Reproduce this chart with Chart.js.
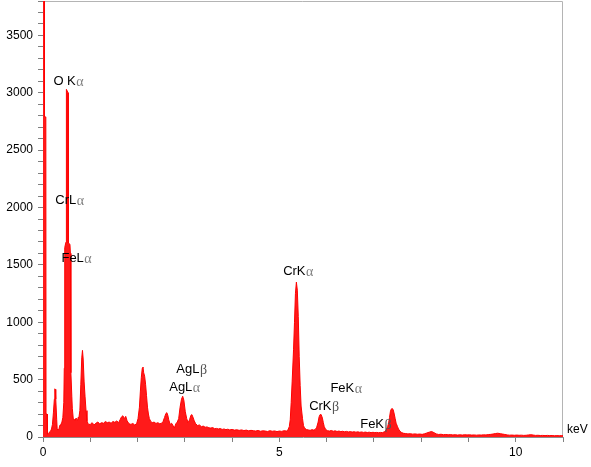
<!DOCTYPE html>
<html>
<head>
<meta charset="utf-8">
<script src="https://cdn.jsdelivr.net/npm/chart.js@4"></script>
<style>
  html, body { margin: 0; padding: 0; background: #fff; }
  canvas { display: block; }
</style>
</head>
<body>
<canvas id="edsChart" width="591" height="467"></canvas>
<script>
// energy axis (keV) and counts
var energyKeV = [
  0.000, 0.028, 0.032, 0.060, 0.064, 0.085, 0.090, 0.10, 0.12, 0.14,
  0.16, 0.18, 0.20, 0.22, 0.24, 0.25, 0.26, 0.27, 0.29, 0.30,
  0.32, 0.34, 0.36, 0.38, 0.40, 0.42, 0.44, 0.45, 0.46, 0.48,
  0.49, 0.495, 0.53, 0.535, 0.57, 0.58, 0.59, 0.61, 0.62, 0.64,
  0.66, 0.68, 0.70, 0.72, 0.74, 0.76, 0.78, 0.80, 0.82, 0.835,
  0.85, 0.87, 0.89, 0.91, 0.93, 0.96, 1.00, 1.04, 1.08, 1.12,
  1.16, 1.20, 1.24, 1.28, 1.32, 1.36, 1.40, 1.44, 1.48, 1.52,
  1.56, 1.60, 1.63, 1.66, 1.69, 1.72, 1.75, 1.78, 1.82, 1.86,
  1.90, 1.94, 1.98, 2.01, 2.04, 2.06, 2.08, 2.10, 2.115, 2.13,
  2.15, 2.17, 2.19, 2.21, 2.23, 2.25, 2.28, 2.31, 2.35, 2.39,
  2.43, 2.47, 2.51, 2.54, 2.57, 2.60, 2.62, 2.64, 2.66, 2.69,
  2.72, 2.75, 2.78, 2.81, 2.84, 2.87, 2.90, 2.93, 2.955, 2.98,
  3.01, 3.04, 3.07, 3.10, 3.13, 3.15, 3.17, 3.20, 3.23, 3.27,
  3.31, 3.35, 3.39, 3.43, 3.47, 3.51, 3.55, 3.59, 3.63, 3.67,
  3.71, 3.75, 3.79, 3.83, 3.87, 3.91, 3.95, 4.00, 4.05, 4.10,
  4.15, 4.20, 4.25, 4.30, 4.35, 4.40, 4.45, 4.50, 4.55, 4.60,
  4.65, 4.70, 4.75, 4.80, 4.85, 4.90, 4.95, 5.00, 5.05, 5.10,
  5.15, 5.18, 5.21, 5.23, 5.25, 5.27, 5.30, 5.32, 5.34, 5.36,
  5.38, 5.40, 5.42, 5.44, 5.46, 5.49, 5.51, 5.53, 5.57, 5.61,
  5.65, 5.69, 5.73, 5.76, 5.79, 5.82, 5.84, 5.86, 5.885, 5.91,
  5.93, 5.95, 5.98, 6.02, 6.06, 6.10, 6.14, 6.18, 6.22, 6.26,
  6.30, 6.34, 6.38, 6.42, 6.46, 6.50, 6.54, 6.58, 6.62, 6.66,
  6.70, 6.74, 6.78, 6.82, 6.86, 6.90, 6.94, 6.98, 7.02, 7.06,
  7.10, 7.14, 7.18, 7.22, 7.26, 7.29, 7.31, 7.33, 7.35, 7.37,
  7.39, 7.41, 7.43, 7.45, 7.47, 7.50, 7.52, 7.55, 7.59, 7.63,
  7.67, 7.72, 7.77, 7.82, 7.87, 7.92, 7.97, 8.02, 8.07, 8.12,
  8.17, 8.22, 8.27, 8.32, 8.37, 8.42, 8.47, 8.52, 8.57, 8.62,
  8.67, 8.72, 8.77, 8.82, 8.87, 8.92, 8.97, 9.02, 9.07, 9.12,
  9.17, 9.22, 9.27, 9.32, 9.37, 9.42, 9.47, 9.52, 9.57, 9.62,
  9.67, 9.72, 9.77, 9.82, 9.87, 9.92, 9.97, 10.02, 10.07, 10.12,
  10.17, 10.22, 10.27, 10.32, 10.37, 10.42, 10.47, 10.52, 10.57, 10.62,
  10.67, 10.72, 10.77, 10.82, 10.87, 10.92, 10.97, 11.00
];
var counts = [
  4200, 4200, 2790, 2790, 200, 200, 40, 25, 30, 45,
  50, 70, 110, 210, 330, 420, 415, 330, 150, 70,
  55, 75, 105, 110, 130, 170, 300, 600, 1650, 1690,
  1700, 3030, 3000, 1690, 1680, 1600, 560, 350, 250, 160,
  155, 145, 165, 150, 170, 170, 230, 460, 690, 755,
  680, 480, 350, 230, 140, 110, 110, 125, 105, 120,
  130, 115, 125, 120, 135, 125, 130, 120, 135, 128,
  140, 125, 150, 175, 185, 160, 180, 140, 115, 110,
  118, 105, 115, 160, 260, 400, 520, 600, 610, 560,
  530, 460, 360, 260, 200, 160, 135, 125, 130, 118,
  125, 115, 120, 135, 170, 205, 212, 190, 150, 110,
  120, 100, 80, 115, 130, 160, 260, 330, 355, 320,
  220, 160, 125, 150, 190, 195, 175, 140, 115, 100,
  105, 90, 95, 85, 88, 80, 78, 82, 72, 75,
  70, 74, 66, 70, 64, 68, 62, 66, 60, 63,
  58, 62, 56, 60, 54, 58, 55, 52, 57, 50,
  54, 52, 48, 55, 50, 53, 47, 52, 49, 55,
  52, 60, 90, 150, 300, 480, 760, 1000, 1250, 1350,
  1280, 1050, 700, 450, 270, 160, 100, 80, 65, 62,
  58, 64, 60, 66, 85, 130, 175, 195, 195, 165,
  125, 90, 65, 55, 52, 57, 50, 54, 48, 52,
  47, 50, 45, 49, 44, 47, 43, 46, 42, 45,
  41, 44, 40, 43, 39, 42, 38, 41, 38, 40,
  37, 40, 38, 45, 60, 90, 120, 170, 225, 245,
  248, 235, 200, 160, 120, 90, 70, 50, 38, 32,
  30, 27, 29, 25, 27, 24, 26, 23, 28, 35,
  42, 48, 38, 27, 22, 24, 20, 22, 19, 21,
  18, 20, 17, 19, 17, 20, 18, 19, 17, 18,
  16, 18, 17, 19, 18, 21, 23, 26, 30, 33,
  29, 26, 22, 18, 16, 17, 15, 17, 15, 16,
  14, 15, 18, 20, 17, 14, 15, 13, 14, 12,
  14, 12, 13, 11, 12, 11, 12, 11
];

// peak labels: name, greek suffix, anchor (left edge keV, centre counts)
var peakNames  = ['O K', 'CrL', 'FeL', 'CrK', 'AgL', 'AgL', 'FeK', 'CrK', 'FeK'];
var peakGreek  = ['\u03b1', '\u03b1', '\u03b1', '\u03b1', '\u03b2', '\u03b1', '\u03b1', '\u03b2', '\u03b2'];
var peakKeV    = [0.22, 0.26, 0.39, 5.08, 2.82, 2.67, 6.08, 5.63, 6.71];
var peakCounts = [3100, 2060, 1555, 1440, 590, 430, 425, 265, 108];

var xTickStep = 1, xLabelEvery = 5;
var yTickStep = 100, yLabelEvery = 500;

var points = energyKeV.map(function(e, i) { return { x: e, y: counts[i] }; });

var framePlugin = {
  id: 'frame',
  beforeDatasetsDraw: function(chart) {
    var a = chart.chartArea, c = chart.ctx;
    c.save();
    c.strokeStyle = '#b4b4b4';
    c.lineWidth = 1;
    c.beginPath();
    c.moveTo(a.left, a.top + 0.5);
    c.lineTo(a.right - 0.5, a.top + 0.5);
    c.lineTo(a.right - 0.5, a.bottom);
    c.stroke();
    c.restore();
  }
};

var labelPlugin = {
  id: 'peakLabels',
  afterDatasetsDraw: function(chart) {
    var c = chart.ctx, xs = chart.scales.x, ys = chart.scales.y;
    c.save();
    c.textBaseline = 'middle';
    c.textAlign = 'left';
    peakNames.forEach(function(name, i) {
      var px = xs.getPixelForValue(peakKeV[i]);
      var py = ys.getPixelForValue(peakCounts[i]);
      c.font = '13px "Liberation Sans", Arial, sans-serif';
      c.fillStyle = '#000';
      c.fillText(name, px, py);
      var w = c.measureText(name).width;
      c.font = '14px "Liberation Serif", "Times New Roman", serif';
      c.fillStyle = peakGreek[i] == '\u03b1' ? '#808080' : '#555';
      c.fillText(peakGreek[i], px + w + 0.5, py + 1);
    });
    // unit label at the end of the x axis
    c.font = '12px "Liberation Sans", Arial, sans-serif';
    c.fillStyle = '#000';
    c.fillText('keV', chart.chartArea.right + 4, ys.getPixelForValue(0) - 7);
    c.restore();
  }
};

var ctx = document.getElementById('edsChart').getContext('2d');
var edsChart = new Chart(ctx, {
  type: 'line',
  data: {
    datasets: [{
      data: points,
      borderColor: '#ff0000',
      backgroundColor: '#ff1a1a',
      borderWidth: 1,
      pointRadius: 0,
      tension: 0,
      fill: 'origin'
    }]
  },
  options: {
    responsive: false,
    animation: false,
    layout: { padding: { top: 1, right: 28, left: 0, bottom: 0 } },
    scales: {
      x: {
        type: 'linear',
        min: 0,
        max: 11,
        ticks: {
          stepSize: xTickStep,
          autoSkip: false,
          maxRotation: 0,
          padding: 3,
          color: '#000',
          font: { size: 12, family: '"Liberation Sans", Arial, sans-serif' },
          callback: function(v) { return v % xLabelEvery === 0 ? v : ''; }
        },
        grid: { drawOnChartArea: false, tickLength: 5, color: '#808080' },
        border: { color: '#8c8c8c' },
        afterFit: function(s) { s.height = 30; s.paddingRight = 0; s.paddingLeft = 0; }
      },
      y: {
        min: 0,
        max: 3800,
        ticks: {
          stepSize: yTickStep,
          autoSkip: false,
          padding: 5,
          color: '#000',
          font: { size: 12, family: '"Liberation Sans", Arial, sans-serif' },
          callback: function(v) { return v % yLabelEvery === 0 ? v : ''; }
        },
        grid: { drawOnChartArea: false, tickLength: 5, color: '#808080' },
        border: { color: '#8c8c8c' },
        afterFit: function(s) { s.width = 43; s.paddingTop = 0; s.paddingBottom = 0; }
      }
    },
    plugins: {
      legend: { display: false },
      tooltip: { enabled: false }
    }
  },
  plugins: [framePlugin, labelPlugin]
});
</script>
</body>
</html>
